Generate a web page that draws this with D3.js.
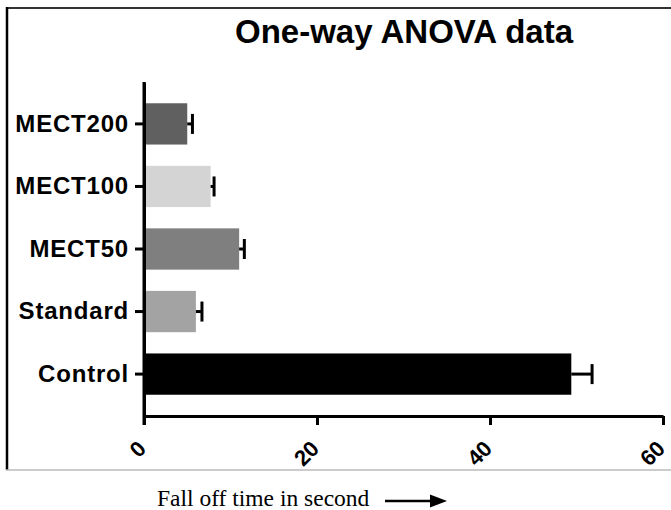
<!DOCTYPE html>
<html>
<head>
<meta charset="utf-8">
<script src="https://cdn.jsdelivr.net/npm/d3@7"></script>
<style>
  body { margin: 0; background: #fff; overflow: hidden; }
  svg { display: block; }
</style>
</head>
<body>
<div id="vis"></div>
<script>
// data
let groups = ['MECT200', 'MECT100', 'MECT50', 'Standard', 'Control']
let means = [5.0, 7.7, 11.0, 6.0, 49.4]
let errors = [0.6, 0.4, 0.6, 0.7, 2.4]
let fills = ['#606060', '#d4d4d4', '#7f7f7f', '#a3a3a3', '#000000']
let xTicks = [0, 20, 40, 60]

let W = 671, H = 510
let margin = { top: 82, left: 144, right: 8, bottom: 94 }

let svg = d3.select('#vis')
  .append('svg')
  .attr('width', W)
  .attr('height', H)

// frame of the figure
svg.append('line').attr('x1', 6).attr('x2', W).attr('y1', 8).attr('y2', 8)
  .attr('stroke', '#333').attr('stroke-width', 2)
svg.append('line').attr('x1', 7).attr('x2', 7).attr('y1', 7).attr('y2', 470)
  .attr('stroke', '#000').attr('stroke-width', 2.5)
svg.append('line').attr('x1', 6).attr('x2', W).attr('y1', 470).attr('y2', 470)
  .attr('stroke', '#bbb').attr('stroke-width', 1.5)

svg.append('text')
  .attr('x', 404)
  .attr('y', 43)
  .attr('text-anchor', 'middle')
  .style('font-family', 'Liberation Sans, Arial, sans-serif')
  .style('font-weight', 'bold')
  .style('font-size', '33px')
  .text('One-way ANOVA data')

let x = d3.scaleLinear().domain([0, 60]).range([margin.left, 663])
let y = d3.scaleBand().domain(groups).range([margin.top, 416]).padding(0.34)

let axisY = 416

// bars
svg.selectAll('rect.bar')
  .data(groups)
  .enter().append('rect')
  .attr('class', 'bar')
  .attr('x', x(0))
  .attr('y', d => y(d))
  .attr('width', (d, i) => x(means[i]) - x(0))
  .attr('height', y.bandwidth())
  .attr('fill', (d, i) => fills[i])

// error bars
let eb = svg.selectAll('g.err')
  .data(groups)
  .enter().append('g')
  .attr('class', 'err')
eb.append('line')
  .attr('x1', (d, i) => x(means[i]))
  .attr('x2', (d, i) => x(means[i] + errors[i]))
  .attr('y1', d => y(d) + y.bandwidth() / 2)
  .attr('y2', d => y(d) + y.bandwidth() / 2)
  .attr('stroke', '#000').attr('stroke-width', 3)
eb.append('line')
  .attr('x1', (d, i) => x(means[i] + errors[i]))
  .attr('x2', (d, i) => x(means[i] + errors[i]))
  .attr('y1', d => y(d) + y.bandwidth() / 2 - 10)
  .attr('y2', d => y(d) + y.bandwidth() / 2 + 10)
  .attr('stroke', '#000').attr('stroke-width', 3)

// x axis
let gx = svg.append('g')
  .attr('transform', 'translate(0,' + axisY + ')')
  .call(d3.axisBottom(x).tickValues(xTicks).tickSize(9).tickSizeOuter(0))
gx.select('.domain').attr('stroke-width', 3)
gx.selectAll('.tick line').attr('stroke-width', 3)
gx.selectAll('.tick text')
  .style('font-family', 'Liberation Sans, Arial, sans-serif')
  .style('font-weight', 'bold')
  .style('font-size', '22px')
  .attr('text-anchor', 'end')
  .attr('x', 3)
  .attr('y', 34)
  .attr('dy', 0)
  .attr('transform', 'rotate(-45, 3, 34)')

// y axis
let gy = svg.append('g')
  .attr('transform', 'translate(' + margin.left + ',0)')
  .call(d3.axisLeft(y).tickSize(9).tickPadding(6).tickSizeOuter(0))
gy.select('.domain').attr('stroke-width', 3)
gy.selectAll('.tick line').attr('stroke-width', 3)
gy.selectAll('.tick text')
  .style('font-family', 'Liberation Sans, Arial, sans-serif')
  .style('font-weight', 'bold')
  .style('font-size', '24px')
  .style('letter-spacing', '0.8px')

// y axis line continues down to the x tick length
svg.append('line')
  .attr('x1', margin.left).attr('x2', margin.left)
  .attr('y1', margin.top).attr('y2', axisY + 9)
  .attr('stroke', '#000').attr('stroke-width', 3)

// axis title with arrow
svg.append('text')
  .attr('x', 157)
  .attr('y', 506)
  .style('font-family', 'Liberation Serif, Times New Roman, serif')
  .style('font-size', '23.5px')
  .text('Fall off time in second')

svg.append('line')
  .attr('x1', 385).attr('x2', 434).attr('y1', 501).attr('y2', 501)
  .attr('stroke', '#000').attr('stroke-width', 2.5)
svg.append('path')
  .attr('d', 'M430,494.5 L447,501 L430,507.5 Z')
  .attr('fill', '#000')
</script>
</body>
</html>
